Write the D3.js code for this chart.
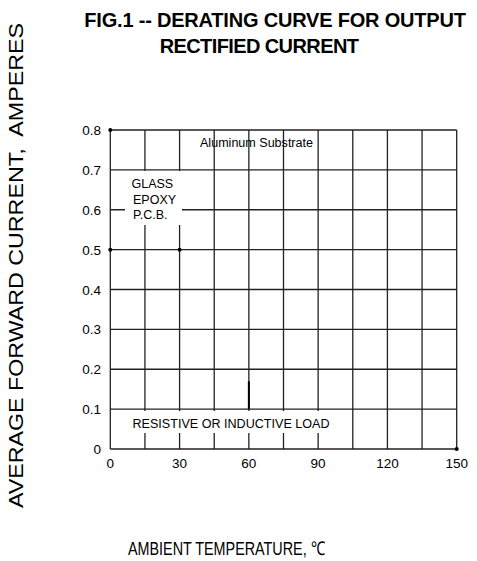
<!DOCTYPE html>
<html>
<head>
<meta charset="utf-8">
<script src="https://cdnjs.cloudflare.com/ajax/libs/d3/7.8.5/d3.min.js"></script>
<style>
  body { margin: 0; background: #fff; }
  text { font-family: "Liberation Sans", Arial, sans-serif; fill: #000; }
</style>
</head>
<body>
<div id="chart"></div>
<script>
// axis ticks
const tempTicks = [0, 30, 60, 90, 120, 150];
const tempGrid = [0, 15, 30, 45, 60, 75, 90, 105, 120, 135, 150];
const currentTicks = [0, 0.1, 0.2, 0.3, 0.4, 0.5, 0.6, 0.7, 0.8];

// what is left of the curve in the picture: end points and one short piece
const curvePoints = [
  { t: 0, a: 0.8 },
  { t: 0, a: 0.5 },
  { t: 30, a: 0.5 },
  { t: 150, a: 0 }
];
const curvePiece = [
  { t: 60, a: 0.1 },
  { t: 60, a: 0.17 }
];

const svg = d3.select("#chart")
  .append("svg")
  .attr("width", 477)
  .attr("height", 561);

const x = d3.scaleLinear().domain([0, 150]).range([110.3, 456.7]);
const y = d3.scaleLinear().domain([0, 0.8]).range([449, 130]);

// grid
svg.append("g")
  .selectAll("line")
  .data(tempGrid)
  .join("line")
  .attr("x1", d => x(d))
  .attr("x2", d => x(d))
  .attr("y1", y(0))
  .attr("y2", y(0.8))
  .attr("stroke", "#222")
  .attr("stroke-width", 1.3);

svg.append("g")
  .selectAll("line")
  .data(currentTicks)
  .join("line")
  .attr("x1", x(0))
  .attr("x2", x(150))
  .attr("y1", d => y(d))
  .attr("y2", d => y(d))
  .attr("stroke", "#222")
  .attr("stroke-width", 1.3);

// tick labels
svg.append("g")
  .selectAll("text")
  .data(currentTicks)
  .join("text")
  .attr("x", 101)
  .attr("y", d => y(d) + 5)
  .attr("text-anchor", "end")
  .attr("font-size", 13.5)
  .text(d => d === 0 ? "0" : d3.format(".1f")(d));

svg.append("g")
  .selectAll("text")
  .data(tempTicks)
  .join("text")
  .attr("x", d => x(d))
  .attr("y", 468)
  .attr("text-anchor", "middle")
  .attr("font-size", 13.5)
  .text(d => d);

// white label boxes
svg.append("rect")
  .attr("x", 125).attr("y", 171)
  .attr("width", 57).attr("height", 54)
  .attr("fill", "#fff");

svg.append("rect")
  .attr("x", 128).attr("y", 411)
  .attr("width", 207).attr("height", 22)
  .attr("fill", "#fff");

// curve remains
svg.append("g")
  .selectAll("circle")
  .data(curvePoints)
  .join("circle")
  .attr("cx", d => x(d.t))
  .attr("cy", d => y(d.a))
  .attr("r", 2)
  .attr("fill", "#000");

svg.append("path")
  .datum(curvePiece)
  .attr("d", d3.line().x(d => x(d.t)).y(d => y(d.a)))
  .attr("stroke", "#000")
  .attr("stroke-width", 2)
  .attr("fill", "none");

// annotations
svg.append("text")
  .attr("x", 200).attr("y", 147)
  .attr("font-size", 12.5)
  .attr("textLength", 113)
  .attr("lengthAdjust", "spacingAndGlyphs")
  .text("Aluminum Substrate");

const glass = ["GLASS", "EPOXY", "P.C.B."];
svg.append("g")
  .selectAll("text")
  .data(glass)
  .join("text")
  .attr("x", (d, i) => i === 0 ? 131.5 : 133)
  .attr("y", (d, i) => 188 + i * 15.5)
  .attr("font-size", 12.5)
  .text(d => d);

svg.append("text")
  .attr("x", 132.5).attr("y", 428)
  .attr("font-size", 12.5)
  .attr("textLength", 197)
  .attr("lengthAdjust", "spacingAndGlyphs")
  .text("RESISTIVE OR INDUCTIVE LOAD");

// titles
svg.append("text")
  .attr("x", 275).attr("y", 27)
  .attr("text-anchor", "middle")
  .attr("font-size", 20)
  .attr("font-weight", "bold")
  .attr("letter-spacing", -0.2)
  .text("FIG.1 -- DERATING CURVE FOR OUTPUT");

svg.append("text")
  .attr("x", 259).attr("y", 53)
  .attr("text-anchor", "middle")
  .attr("font-size", 20)
  .attr("font-weight", "bold")
  .attr("letter-spacing", -0.6)
  .text("RECTIFIED CURRENT");

svg.append("text")
  .attr("transform", "translate(23,508) rotate(-90)")
  .attr("font-size", 20)
  .attr("textLength", 485)
  .attr("lengthAdjust", "spacingAndGlyphs")
  .style("white-space", "pre")
  .text("AVERAGE FORWARD CURRENT,  AMPERES");

svg.append("text")
  .attr("x", 128).attr("y", 555)
  .attr("font-size", 19)
  .attr("textLength", 197)
  .attr("lengthAdjust", "spacingAndGlyphs")
  .style("white-space", "pre")
  .text("AMBIENT TEMPERATURE, ℃");
</script>
</body>
</html>
